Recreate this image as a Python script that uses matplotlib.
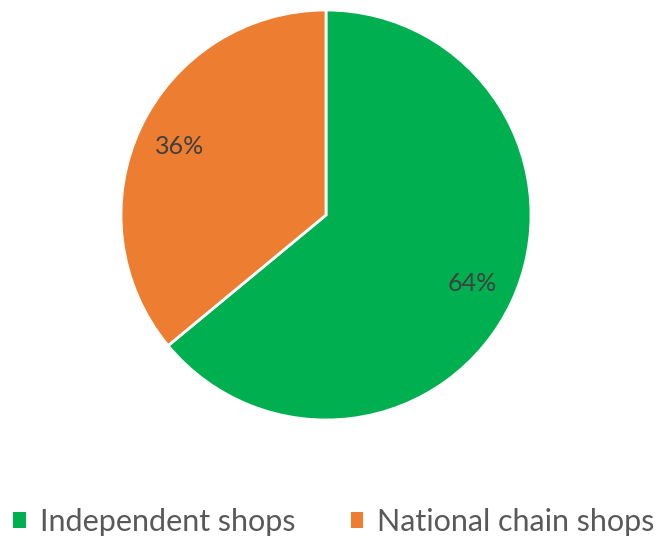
import matplotlib
matplotlib.use("Agg")
import matplotlib.pyplot as plt
from matplotlib.patches import Patch

categories = ["Independent shops", "National chain shops"]
values = [64, 36]
colors = ["#00B050", "#ED7D31"]

plt.rcParams['font.family'] = ['Lato', 'DejaVu Sans']

fig = plt.figure(figsize=(6.59, 5.42), dpi=100)
ax = fig.add_axes([121/659, 1 - 420/542, 410/659, 410/542])
wedges, texts, autotexts = ax.pie(values, colors=colors, startangle=90, counterclock=False,
                                  autopct=lambda p: f"{p:.0f}%", pctdistance=0.79,
                                  wedgeprops=dict(edgecolor="white", linewidth=2),
                                  textprops=dict(color="#404040", fontsize=18))
ax.set_xlim(-1, 1)
ax.set_ylim(-1, 1)
ax.set_aspect("equal")

handles = [Patch(facecolor=c, edgecolor="none") for c in colors]
fig.legend(handles, categories, loc="center", bbox_to_anchor=(334/659, 1 - 522/542),
           ncol=2, frameon=False, fontsize=22, labelcolor="#595959",
           handlelength=0.42, handleheight=0.42, handletextpad=0.45, columnspacing=1.8,
           borderpad=0, borderaxespad=0)

fig.savefig("out.png", dpi=100)
